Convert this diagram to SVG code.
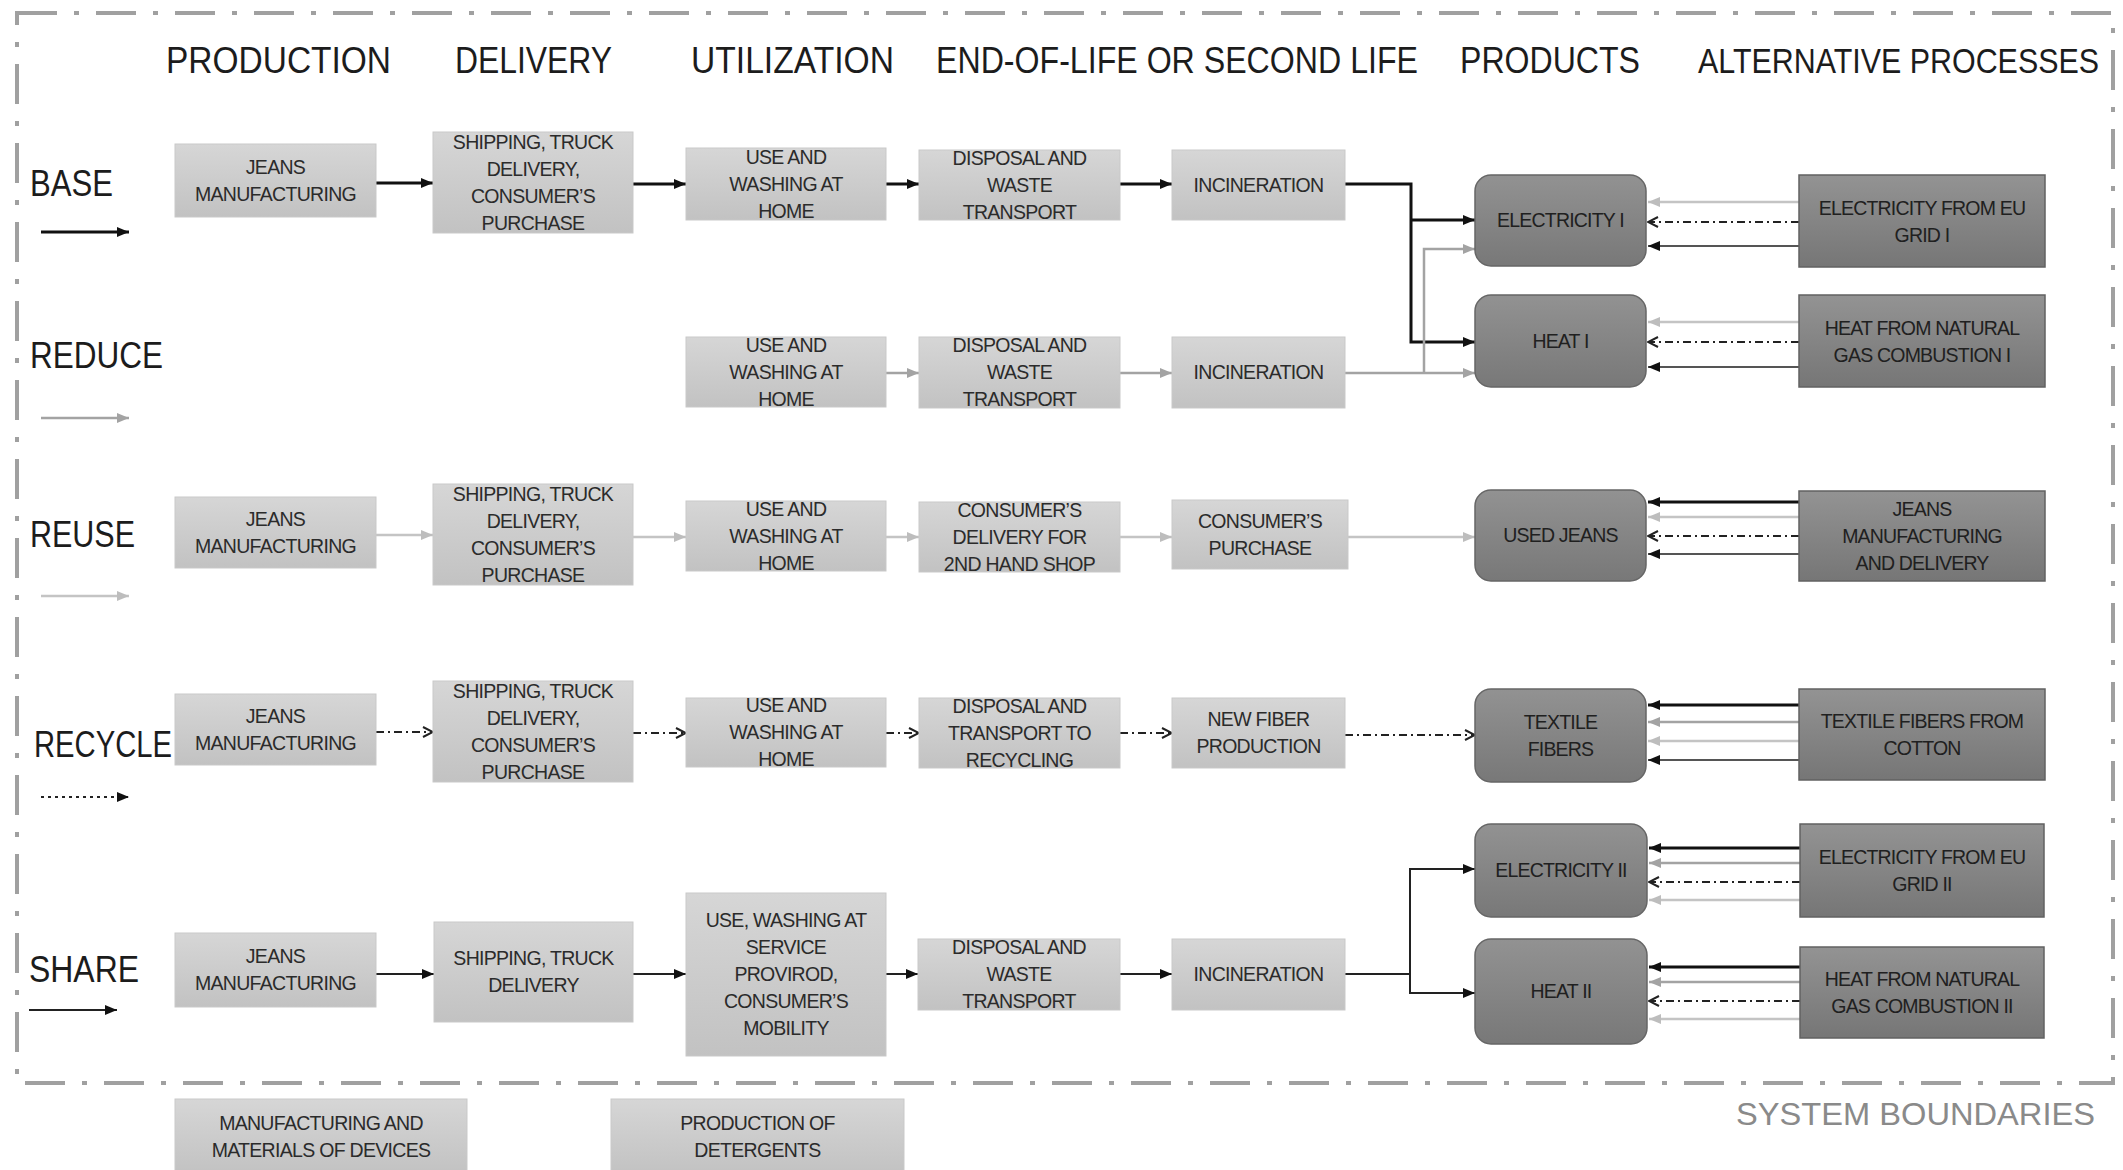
<svg xmlns="http://www.w3.org/2000/svg" width="2123" height="1170" viewBox="0 0 2123 1170">
<defs>
<linearGradient id="gl" x1="0" y1="0" x2="0" y2="1"><stop offset="0" stop-color="#d6d6d6"/><stop offset="1" stop-color="#c2c2c2"/></linearGradient>
<linearGradient id="gd" x1="0" y1="0" x2="0" y2="1"><stop offset="0" stop-color="#939393"/><stop offset="1" stop-color="#767676"/></linearGradient>
<linearGradient id="gp" x1="0" y1="0" x2="0" y2="1"><stop offset="0" stop-color="#929292"/><stop offset="1" stop-color="#787878"/></linearGradient>
<marker id="mB" viewBox="0 0 12 10" refX="12" refY="5" markerWidth="12" markerHeight="10" markerUnits="userSpaceOnUse" orient="auto"><path d="M0,0 L12,5 L0,10 Z" fill="#111"/></marker>
<marker id="mG" viewBox="0 0 12 10" refX="12" refY="5" markerWidth="12" markerHeight="10" markerUnits="userSpaceOnUse" orient="auto"><path d="M0,0 L12,5 L0,10 Z" fill="#a3a3a3"/></marker>
<marker id="mL" viewBox="0 0 12 10" refX="12" refY="5" markerWidth="12" markerHeight="10" markerUnits="userSpaceOnUse" orient="auto"><path d="M0,0 L12,5 L0,10 Z" fill="#bdbdbd"/></marker>
<marker id="mO" viewBox="0 0 12 12" refX="11" refY="6" markerWidth="12" markerHeight="12" markerUnits="userSpaceOnUse" orient="auto"><path d="M1,1 L11,6 L1,11" fill="none" stroke="#222" stroke-width="2"/></marker>
</defs>
<style>
.lb{fill:url(#gl);stroke:#c9c9c9;stroke-width:1}
.db{fill:url(#gd);stroke:#626262;stroke-width:1.5}
.pb{fill:url(#gp);stroke:#666;stroke-width:1.5}
.t{font-family:'Liberation Sans',Arial,sans-serif;font-size:19.5px;fill:#2b2b2b;text-anchor:middle;letter-spacing:-0.7px}
.td{font-family:'Liberation Sans',Arial,sans-serif;font-size:19.5px;fill:#202020;text-anchor:middle;letter-spacing:-0.8px}
.h{font-family:'Liberation Sans',Arial,sans-serif;font-size:36px;fill:#1c1c1c}
.sb{font-family:'Liberation Sans',Arial,sans-serif;font-size:31px;fill:#8a8a8a}
.border{fill:none;stroke:#a0a0a0;stroke-width:4;stroke-dasharray:40 17 5 17}
.base{stroke:#111;stroke-width:3;fill:none;marker-end:url(#mB)}
.red{stroke:#a3a3a3;stroke-width:2.5;fill:none;marker-end:url(#mG)}
.reu{stroke:#c4c4c4;stroke-width:2.5;fill:none;marker-end:url(#mL)}
.rec{stroke:#222;stroke-width:2;stroke-dasharray:8 4 2 4;fill:none;marker-end:url(#mO)}
.sha{stroke:#222;stroke-width:2;fill:none;marker-end:url(#mB)}
.dk{stroke:#555;stroke-width:2;fill:none;marker-end:url(#mB)}
</style>
<rect width="2123" height="1170" fill="#fff"/>
<rect class="border" x="17" y="13" width="2096" height="1070"/>

<g id="headers">
<text class="h" x="166" y="73" textLength="225" lengthAdjust="spacingAndGlyphs">PRODUCTION</text>
<text class="h" x="455" y="73" textLength="157" lengthAdjust="spacingAndGlyphs">DELIVERY</text>
<text class="h" x="691" y="73" textLength="203" lengthAdjust="spacingAndGlyphs">UTILIZATION</text>
<text class="h" x="936" y="73" textLength="482" lengthAdjust="spacingAndGlyphs">END-OF-LIFE OR SECOND LIFE</text>
<text class="h" x="1460" y="73" textLength="180" lengthAdjust="spacingAndGlyphs">PRODUCTS</text>
<text class="h" transform="translate(1698,73) scale(0.845,1)" x="0" y="0">ALTERNATIVE PROCESSES</text>
</g>

<g id="legend">
<text class="h" x="30" y="196" textLength="83" lengthAdjust="spacingAndGlyphs">BASE</text>
<text class="h" x="30" y="368" textLength="133" lengthAdjust="spacingAndGlyphs">REDUCE</text>
<text class="h" x="30" y="547" textLength="105" lengthAdjust="spacingAndGlyphs">REUSE</text>
<text class="h" x="34" y="757" textLength="138" lengthAdjust="spacingAndGlyphs">RECYCLE</text>
<text class="h" x="29" y="982" textLength="110" lengthAdjust="spacingAndGlyphs">SHARE</text>
<line x1="41" y1="232" x2="129" y2="232" class="base"/>
<line x1="41" y1="418" x2="129" y2="418" class="red"/>
<line x1="41" y1="596" x2="129" y2="596" class="reu"/>
<line x1="41" y1="797" x2="129" y2="797" stroke="#222" stroke-width="2" stroke-dasharray="3 4" marker-end="url(#mB)"/>
<line x1="29" y1="1010" x2="117" y2="1010" class="sha"/>
<text class="sb" x="1736" y="1125" textLength="359" lengthAdjust="spacingAndGlyphs">SYSTEM BOUNDARIES</text>
</g>

<g id="connectors">
<line x1="376" y1="183" x2="433" y2="183" class="base"/>
<line x1="633" y1="184" x2="686" y2="184" class="base"/>
<line x1="886" y1="184" x2="919" y2="184" class="base"/>
<line x1="1120" y1="184" x2="1172" y2="184" class="base"/>
<polyline points="1345,184 1411,184 1411,342 1475,342" class="base"/>
<polyline points="1411,220 1475,220" class="base"/>
<line x1="886" y1="373" x2="919" y2="373" class="red"/>
<line x1="1120" y1="373" x2="1172" y2="373" class="red"/>
<line x1="1345" y1="373" x2="1475" y2="373" class="red"/>
<polyline points="1424,373 1424,249 1475,249" class="red"/>
<line x1="376" y1="535" x2="433" y2="535" class="reu"/>
<line x1="633" y1="537" x2="686" y2="537" class="reu"/>
<line x1="886" y1="537" x2="919" y2="537" class="reu"/>
<line x1="1120" y1="537" x2="1172" y2="537" class="reu"/>
<line x1="1348" y1="537" x2="1475" y2="537" class="reu"/>
<line x1="376" y1="732" x2="433" y2="732" class="rec"/>
<line x1="633" y1="733" x2="686" y2="733" class="rec"/>
<line x1="886" y1="733" x2="919" y2="733" class="rec"/>
<line x1="1120" y1="733" x2="1172" y2="733" class="rec"/>
<line x1="1345" y1="735" x2="1475" y2="735" class="rec"/>
<line x1="376" y1="974" x2="434" y2="974" class="sha"/>
<line x1="633" y1="974" x2="686" y2="974" class="sha"/>
<line x1="886" y1="974" x2="918" y2="974" class="sha"/>
<line x1="1120" y1="974" x2="1172" y2="974" class="sha"/>
<polyline points="1345,974 1410,974 1410,993 1475,993" class="sha"/>
<polyline points="1410,974 1410,869 1475,869" class="sha"/>
<line x1="1799" y1="202" x2="1648" y2="202" class="reu"/>
<line x1="1799" y1="222" x2="1648" y2="222" class="rec"/>
<line x1="1799" y1="246" x2="1648" y2="246" class="dk"/>
<line x1="1799" y1="322" x2="1648" y2="322" class="reu"/>
<line x1="1799" y1="342" x2="1648" y2="342" class="rec"/>
<line x1="1799" y1="367" x2="1648" y2="367" class="dk"/>
<line x1="1799" y1="502" x2="1648" y2="502" class="base"/>
<line x1="1799" y1="517" x2="1648" y2="517" class="reu"/>
<line x1="1799" y1="536" x2="1648" y2="536" class="rec"/>
<line x1="1799" y1="554" x2="1648" y2="554" class="dk"/>
<line x1="1799" y1="705" x2="1648" y2="705" class="base"/>
<line x1="1799" y1="722" x2="1648" y2="722" class="red"/>
<line x1="1799" y1="741" x2="1648" y2="741" class="reu"/>
<line x1="1799" y1="760" x2="1648" y2="760" class="dk"/>
<line x1="1800" y1="848" x2="1649" y2="848" class="base"/>
<line x1="1800" y1="863" x2="1649" y2="863" class="red"/>
<line x1="1800" y1="882" x2="1649" y2="882" class="rec"/>
<line x1="1800" y1="900" x2="1649" y2="900" class="reu"/>
<line x1="1800" y1="967" x2="1649" y2="967" class="base"/>
<line x1="1800" y1="982" x2="1649" y2="982" class="red"/>
<line x1="1800" y1="1001" x2="1649" y2="1001" class="rec"/>
<line x1="1800" y1="1019" x2="1649" y2="1019" class="reu"/>
</g>

<g id="base-jeans"><rect class="lb" x="175" y="144" width="201" height="73"/><text class="t" x="275.5" y="173.5">JEANS</text><text class="t" x="275.5" y="200.5">MANUFACTURING</text></g>
<g id="base-shipping"><rect class="lb" x="433" y="132" width="200" height="101"/><text class="t" x="533" y="148.5">SHIPPING, TRUCK</text><text class="t" x="533" y="175.5">DELIVERY,</text><text class="t" x="533" y="202.5">CONSUMER’S</text><text class="t" x="533" y="229.5">PURCHASE</text></g>
<g id="base-use"><rect class="lb" x="686" y="148" width="200" height="72"/><text class="t" x="786" y="163.5">USE AND</text><text class="t" x="786" y="190.5">WASHING AT</text><text class="t" x="786" y="217.5">HOME</text></g>
<g id="base-disposal"><rect class="lb" x="919" y="150" width="201" height="70"/><text class="t" x="1019.5" y="164.5">DISPOSAL  AND</text><text class="t" x="1019.5" y="191.5">WASTE</text><text class="t" x="1019.5" y="218.5">TRANSPORT</text></g>
<g id="base-incineration"><rect class="lb" x="1172" y="150" width="173" height="70"/><text class="t" x="1258.5" y="191.5">INCINERATION</text></g>

<g id="reduce-use"><rect class="lb" x="686" y="337" width="200" height="70"/><text class="t" x="786" y="351.5">USE AND</text><text class="t" x="786" y="378.5">WASHING AT</text><text class="t" x="786" y="405.5">HOME</text></g>
<g id="reduce-disposal"><rect class="lb" x="919" y="337" width="201" height="71"/><text class="t" x="1019.5" y="352">DISPOSAL  AND</text><text class="t" x="1019.5" y="379">WASTE</text><text class="t" x="1019.5" y="406">TRANSPORT</text></g>
<g id="reduce-incineration"><rect class="lb" x="1172" y="337" width="173" height="71"/><text class="t" x="1258.5" y="379">INCINERATION</text></g>

<g id="reuse-jeans"><rect class="lb" x="175" y="497" width="201" height="71"/><text class="t" x="275.5" y="525.5">JEANS</text><text class="t" x="275.5" y="552.5">MANUFACTURING</text></g>
<g id="reuse-shipping"><rect class="lb" x="433" y="484" width="200" height="101"/><text class="t" x="533" y="500.5">SHIPPING, TRUCK</text><text class="t" x="533" y="527.5">DELIVERY,</text><text class="t" x="533" y="554.5">CONSUMER’S</text><text class="t" x="533" y="581.5">PURCHASE</text></g>
<g id="reuse-use"><rect class="lb" x="686" y="501" width="200" height="70"/><text class="t" x="786" y="515.5">USE AND</text><text class="t" x="786" y="542.5">WASHING AT</text><text class="t" x="786" y="569.5">HOME</text></g>
<g id="reuse-delivery"><rect class="lb" x="919" y="502" width="201" height="70"/><text class="t" x="1019.5" y="516.5">CONSUMER’S</text><text class="t" x="1019.5" y="543.5">DELIVERY FOR</text><text class="t" x="1019.5" y="570.5">2ND HAND SHOP</text></g>
<g id="reuse-purchase"><rect class="lb" x="1172" y="500" width="176" height="69"/><text class="t" x="1260" y="527.5">CONSUMER’S</text><text class="t" x="1260" y="554.5">PURCHASE</text></g>

<g id="recycle-jeans"><rect class="lb" x="175" y="694" width="201" height="71"/><text class="t" x="275.5" y="722.5">JEANS</text><text class="t" x="275.5" y="749.5">MANUFACTURING</text></g>
<g id="recycle-shipping"><rect class="lb" x="433" y="681" width="200" height="101"/><text class="t" x="533" y="697.5">SHIPPING, TRUCK</text><text class="t" x="533" y="724.5">DELIVERY,</text><text class="t" x="533" y="751.5">CONSUMER’S</text><text class="t" x="533" y="778.5">PURCHASE</text></g>
<g id="recycle-use"><rect class="lb" x="686" y="698" width="200" height="69"/><text class="t" x="786" y="712">USE AND</text><text class="t" x="786" y="739">WASHING AT</text><text class="t" x="786" y="766">HOME</text></g>
<g id="recycle-disposal"><rect class="lb" x="919" y="698" width="201" height="70"/><text class="t" x="1019.5" y="712.5">DISPOSAL  AND</text><text class="t" x="1019.5" y="739.5">TRANSPORT TO</text><text class="t" x="1019.5" y="766.5">RECYCLING</text></g>
<g id="recycle-fiber"><rect class="lb" x="1172" y="698" width="173" height="70"/><text class="t" x="1258.5" y="726">NEW FIBER</text><text class="t" x="1258.5" y="753">PRODUCTION</text></g>

<g id="share-jeans"><rect class="lb" x="175" y="933" width="201" height="74"/><text class="t" x="275.5" y="963">JEANS</text><text class="t" x="275.5" y="990">MANUFACTURING</text></g>
<g id="share-shipping"><rect class="lb" x="434" y="922" width="199" height="100"/><text class="t" x="533.5" y="965">SHIPPING, TRUCK</text><text class="t" x="533.5" y="992">DELIVERY</text></g>
<g id="share-use"><rect class="lb" x="686" y="893" width="200" height="163"/><text class="t" x="786" y="927">USE, WASHING AT</text><text class="t" x="786" y="954">SERVICE</text><text class="t" x="786" y="981">PROVIROD,</text><text class="t" x="786" y="1008">CONSUMER’S</text><text class="t" x="786" y="1035">MOBILITY</text></g>
<g id="share-disposal"><rect class="lb" x="918" y="939" width="202" height="71"/><text class="t" x="1019" y="954">DISPOSAL  AND</text><text class="t" x="1019" y="981">WASTE</text><text class="t" x="1019" y="1008">TRANSPORT</text></g>
<g id="share-incineration"><rect class="lb" x="1172" y="939" width="173" height="71"/><text class="t" x="1258.5" y="981">INCINERATION</text></g>

<g id="devices"><rect class="lb" x="175" y="1099" width="292" height="75"/><text class="t" x="321" y="1130">MANUFACTURING AND</text><text class="t" x="321" y="1157">MATERIALS OF DEVICES</text></g>
<g id="detergents"><rect class="lb" x="611" y="1099" width="293" height="75"/><text class="t" x="757.5" y="1130">PRODUCTION OF</text><text class="t" x="757.5" y="1157">DETERGENTS</text></g>

<g id="electricity-1"><rect class="pb" x="1475" y="175" width="171" height="91" rx="16"/><text class="td" x="1560.5" y="227">ELECTRICITY I</text></g>
<g id="heat-1"><rect class="pb" x="1475" y="295" width="171" height="92" rx="16"/><text class="td" x="1560.5" y="347.5">HEAT I</text></g>
<g id="used-jeans"><rect class="pb" x="1475" y="490" width="171" height="91" rx="16"/><text class="td" x="1560.5" y="542">USED JEANS</text></g>
<g id="textile-fibers"><rect class="pb" x="1475" y="689" width="171" height="93" rx="16"/><text class="td" x="1560.5" y="729">TEXTILE</text><text class="td" x="1560.5" y="756">FIBERS</text></g>
<g id="electricity-2"><rect class="pb" x="1475" y="824" width="172" height="93" rx="16"/><text class="td" x="1561" y="877">ELECTRICITY II</text></g>
<g id="heat-2"><rect class="pb" x="1475" y="939" width="172" height="105" rx="16"/><text class="td" x="1561" y="998">HEAT II</text></g>

<g id="alt-elec-1"><rect class="db" x="1799" y="175" width="246" height="92"/><text class="td" x="1922" y="214.5">ELECTRICITY FROM EU</text><text class="td" x="1922" y="241.5">GRID I</text></g>
<g id="alt-heat-1"><rect class="db" x="1799" y="295" width="246" height="92"/><text class="td" x="1922" y="334.5">HEAT FROM NATURAL</text><text class="td" x="1922" y="361.5">GAS COMBUSTION I</text></g>
<g id="alt-jeans"><rect class="db" x="1799" y="491" width="246" height="90"/><text class="td" x="1922" y="515.5">JEANS</text><text class="td" x="1922" y="542.5">MANUFACTURING</text><text class="td" x="1922" y="569.5">AND DELIVERY</text></g>
<g id="alt-cotton"><rect class="db" x="1799" y="689" width="246" height="91"/><text class="td" x="1922" y="728">TEXTILE FIBERS FROM</text><text class="td" x="1922" y="755">COTTON</text></g>
<g id="alt-elec-2"><rect class="db" x="1800" y="824" width="244" height="93"/><text class="td" x="1922" y="864">ELECTRICITY FROM EU</text><text class="td" x="1922" y="891">GRID II</text></g>
<g id="alt-heat-2"><rect class="db" x="1800" y="947" width="244" height="91"/><text class="td" x="1922" y="986">HEAT FROM NATURAL</text><text class="td" x="1922" y="1013">GAS COMBUSTION II</text></g>
</svg>
